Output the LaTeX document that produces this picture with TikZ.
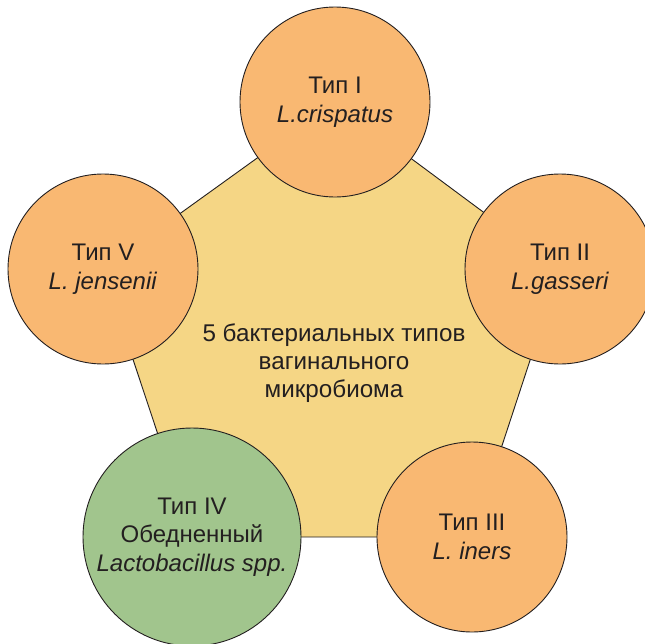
\documentclass[tikz,border=0pt]{standalone}
\usepackage{fontspec}
\setmainfont{Liberation Sans}
\definecolor{txt}{HTML}{231F20}
\definecolor{orangefill}{HTML}{F9B872}
\definecolor{pentfill}{HTML}{F5D685}
\definecolor{greenfill}{HTML}{A1C58D}
\tikzset{
  typecircle/.style={circle, draw=txt, line width=0.9pt, fill=orangefill, minimum size=190pt, inner sep=0pt, align=center, text=txt, font=\fontsize{24}{28.5}\selectfont},
  greencircle/.style={typecircle, fill=greenfill, minimum size=218pt},
  pent/.style={draw=txt, line width=0.9pt, fill=pentfill, line join=miter},
  centertext/.style={align=center, text=txt, font=\fontsize{24.2}{28.3}\selectfont}
}
\begin{document}
\begin{tikzpicture}[x=1pt,y=-1pt]
\useasboundingbox (0,0) rectangle (645,643);
\clip (0,0) rectangle (645,643);
\coordinate (p1) at (335,102);
\coordinate (p2) at (560,269);
\coordinate (p3) at (472,537);
\coordinate (p4) at (192,537);
\coordinate (p5) at (103,269);
\draw[pent] (p1) -- (p2) -- (p3) -- (p4) -- (p5) -- cycle;
\node[centertext] (center) at (334,363) {5 бактериальных типов\\вагинального\\микробиома};
\node[typecircle] (t1) at (p1) {Тип I\\\textit{L.crispatus}};
\node[typecircle] (t2) at (p2) {Тип II\\\textit{L.gasseri}};
\node[typecircle] (t3) at (p3) {Тип III\\\textit{L. iners}};
\node[greencircle] (t4) at (p4) {Тип IV\\Обедненный\\\textit{Lactobacillus spp.}};
\node[typecircle] (t5) at (p5) {Тип V\\\textit{L. jensenii}};
\end{tikzpicture}
\end{document}
